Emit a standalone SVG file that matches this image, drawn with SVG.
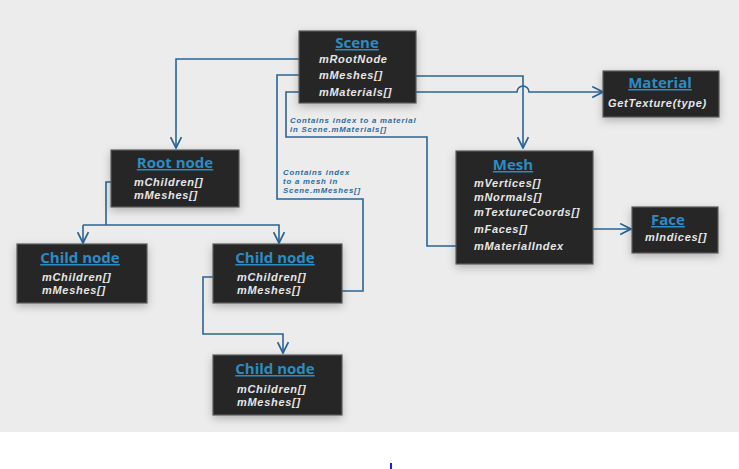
<svg xmlns="http://www.w3.org/2000/svg" width="739" height="469" viewBox="0 0 739 469">
<style>
.box{fill:#262626;stroke:#5a5a5a;stroke-width:1.2;filter:url(#sh)}
.title{font-family:"Open Sans","Liberation Sans",sans-serif;font-weight:bold;font-size:15px;fill:#2b8cc4;text-anchor:middle;text-decoration:underline}
.f{font-family:"Liberation Sans",Arial,sans-serif;font-weight:bold;font-style:italic;font-size:11px;letter-spacing:0.7px;fill:#e6e6e6}
.lbl{font-family:"Liberation Sans",Arial,sans-serif;font-weight:bold;font-style:italic;font-size:7.8px;letter-spacing:0.8px;fill:#2a6aa0}
.c{fill:none;stroke:#2a6496;stroke-width:1.6}
.a{marker-end:url(#ar)}
</style>
<defs>
<filter id="sh" x="-20%" y="-20%" width="140%" height="150%">
<feDropShadow dx="0" dy="3" stdDeviation="4" flood-color="#000" flood-opacity="0.25"/>
</filter>
<marker id="ar" viewBox="0 0 12 12" refX="11" refY="6" markerWidth="13" markerHeight="13" markerUnits="userSpaceOnUse" orient="auto">
<path d="M1,1 L11,6 L1,11" fill="none" stroke="#2a6496" stroke-width="1.6"/>
</marker>
</defs>
<rect x="0" y="0" width="739" height="432" fill="#ececec"/>
<rect x="0" y="432" width="739" height="37" fill="#ffffff"/>
<rect x="390" y="463" width="2" height="6" fill="#1a1aff"/>

<g id="connectors">
<path class="c a" d="M315,59 H176 V148"/>
<path class="c a" d="M307,291 H363 V199 H277 V75 H315"/>
<path class="c a" d="M468,246 H427 V137 H286 V92 H315"/>
<path class="c a" d="M393,76 H523 V148"/>
<path class="c a" d="M400,92 H517 A6,6 0 0 1 529,92 H603"/>
<path class="c a" d="M530,229 H631"/>
<path class="c" d="M132,182 H106 V225"/>
<path class="c a" d="M83,225 V243"/>
<path class="c a" d="M83,225 H279 V243"/>
<path class="c a" d="M234,277 H203 V334 H283 V353"/>
<text class="lbl" x="290" y="123">Contains index to a material</text>
<text class="lbl" x="290" y="132">in Scene.mMaterials[]</text>
<text class="lbl" x="283" y="175">Contains index</text>
<text class="lbl" x="283" y="184">to a mesh in</text>
<text class="lbl" x="283" y="193">Scene.mMeshes[]</text>
</g>

<g id="scene">
<rect class="box" x="299" y="31" width="117" height="72"/>
<text class="title" x="357" y="48">Scene</text>
<text class="f" x="319" y="63">mRootNode</text>
<text class="f" x="319" y="79">mMeshes[]</text>
<text class="f" x="319" y="96">mMaterials[]</text>
</g>

<g id="material">
<rect class="box" x="603" y="71" width="116" height="46"/>
<text class="title" x="660" y="88">Material</text>
<text class="f" x="608" y="107">GetTexture(type)</text>
</g>

<g id="rootnode">
<rect class="box" x="111" y="150" width="128" height="57"/>
<text class="title" x="175" y="168">Root node</text>
<text class="f" x="134" y="186">mChildren[]</text>
<text class="f" x="134" y="199">mMeshes[]</text>
</g>

<g id="child1">
<rect class="box" x="17" y="244" width="130" height="59"/>
<text class="title" x="80" y="263">Child node</text>
<text class="f" x="42" y="281">mChildren[]</text>
<text class="f" x="42" y="294">mMeshes[]</text>
</g>

<g id="child2">
<rect class="box" x="213" y="244" width="129" height="59"/>
<text class="title" x="275" y="263">Child node</text>
<text class="f" x="237" y="281">mChildren[]</text>
<text class="f" x="237" y="294">mMeshes[]</text>
</g>

<g id="child3">
<rect class="box" x="213" y="355" width="129" height="60"/>
<text class="title" x="275" y="374">Child node</text>
<text class="f" x="237" y="393">mChildren[]</text>
<text class="f" x="237" y="406">mMeshes[]</text>
</g>

<g id="mesh">
<rect class="box" x="456" y="151" width="137" height="113"/>
<text class="title" x="513" y="170">Mesh</text>
<text class="f" x="474" y="187">mVertices[]</text>
<text class="f" x="474" y="201">mNormals[]</text>
<text class="f" x="474" y="216">mTextureCoords[]</text>
<text class="f" x="474" y="233">mFaces[]</text>
<text class="f" x="474" y="250">mMaterialIndex</text>
</g>

<g id="face">
<rect class="box" x="632" y="207" width="86" height="46"/>
<text class="title" x="668" y="225">Face</text>
<text class="f" x="645" y="241">mIndices[]</text>
</g>
</svg>
